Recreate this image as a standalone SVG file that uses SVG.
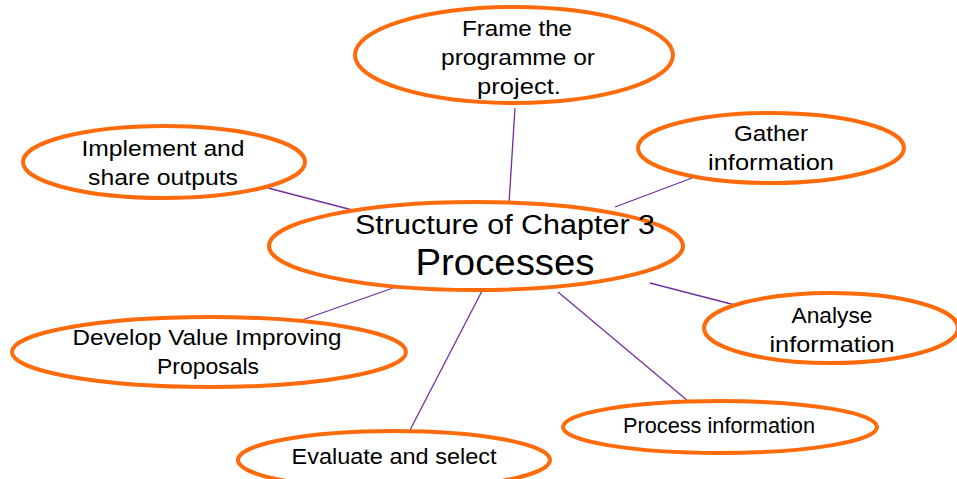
<svg xmlns="http://www.w3.org/2000/svg" width="957" height="479" viewBox="0 0 957 479">
<style>
.node ellipse{fill:#fff;stroke:#FF6A0A;stroke-width:4}
.lbl{font-family:"Liberation Sans",Arial,sans-serif;font-size:22px;fill:#000;text-anchor:middle}
#connectors line{stroke:#7030A0;stroke-width:1.3}
.t1{font-family:"Liberation Sans",Arial,sans-serif;font-size:27px;fill:#000;text-anchor:middle}
.t2{font-family:"Liberation Sans",Arial,sans-serif;font-size:36px;fill:#000;text-anchor:middle}
</style>
<rect width="957" height="479" fill="#fff"/>
<g id="connectors">
<line x1="515" y1="108" x2="509" y2="203"/>
<line x1="268" y1="188" x2="360" y2="212"/>
<line x1="692" y1="178" x2="615" y2="207"/>
<line x1="650" y1="283" x2="735" y2="305"/>
<line x1="558" y1="292" x2="688" y2="401"/>
<line x1="482" y1="291" x2="410" y2="430"/>
<line x1="393" y1="288" x2="302" y2="320"/>
</g>
<g id="center" class="node">
<ellipse cx="476" cy="246" rx="207" ry="44"/>
<text class="t1" x="505" y="234" textLength="300" lengthAdjust="spacingAndGlyphs">Structure of Chapter 3</text>
<text class="t2" x="505" y="275" textLength="179" lengthAdjust="spacingAndGlyphs">Processes</text>
</g>
<g id="frame" class="node">
<ellipse cx="514" cy="55" rx="159" ry="48"/>
<text class="lbl" x="517" y="36" textLength="110" lengthAdjust="spacingAndGlyphs">Frame the</text>
<text class="lbl" x="518" y="65" textLength="154" lengthAdjust="spacingAndGlyphs">programme or</text>
<text class="lbl" x="519" y="94" textLength="84" lengthAdjust="spacingAndGlyphs">project.</text>
</g>
<g id="implement" class="node">
<ellipse cx="164" cy="162" rx="141" ry="36"/>
<text class="lbl" x="163" y="156" textLength="163" lengthAdjust="spacingAndGlyphs">Implement and</text>
<text class="lbl" x="163" y="185" textLength="150" lengthAdjust="spacingAndGlyphs">share outputs</text>
</g>
<g id="gather" class="node">
<ellipse cx="771" cy="148" rx="133" ry="35"/>
<text class="lbl" x="771" y="141" textLength="74" lengthAdjust="spacingAndGlyphs">Gather</text>
<text class="lbl" x="771" y="170" textLength="126" lengthAdjust="spacingAndGlyphs">information</text>
</g>
<g id="analyse" class="node">
<ellipse cx="831" cy="328" rx="127" ry="35"/>
<text class="lbl" x="832" y="323" textLength="81" lengthAdjust="spacingAndGlyphs">Analyse</text>
<text class="lbl" x="832" y="352" textLength="125" lengthAdjust="spacingAndGlyphs">information</text>
</g>
<g id="develop" class="node">
<ellipse cx="209" cy="352" rx="197" ry="35"/>
<text class="lbl" x="207" y="345" textLength="269" lengthAdjust="spacingAndGlyphs">Develop Value Improving</text>
<text class="lbl" x="208" y="374" textLength="102" lengthAdjust="spacingAndGlyphs">Proposals</text>
</g>
<g id="process" class="node">
<ellipse cx="720" cy="427" rx="157" ry="26"/>
<text class="lbl" x="719" y="433" textLength="192" lengthAdjust="spacingAndGlyphs">Process information</text>
</g>
<g id="evaluate" class="node">
<ellipse cx="394" cy="460" rx="156" ry="29"/>
<text class="lbl" x="394" y="464" textLength="205" lengthAdjust="spacingAndGlyphs">Evaluate and select</text>
</g>
</svg>
